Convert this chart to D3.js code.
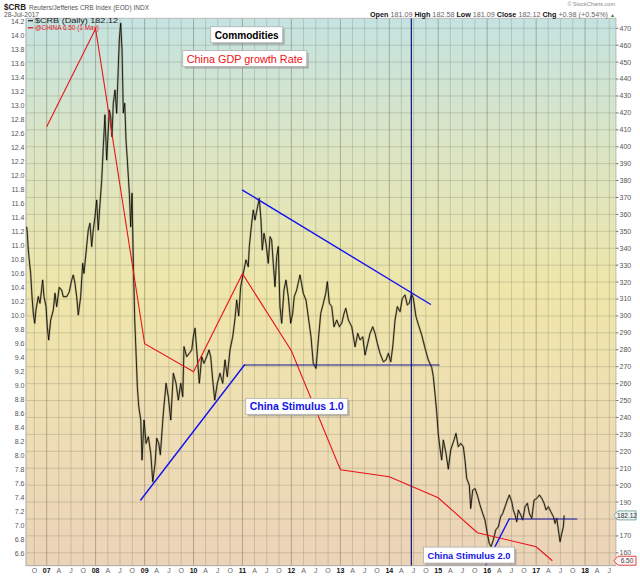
<!DOCTYPE html>
<html lang="en">
<head>
  <meta charset="UTF-8">
  <title>$CRB vs China GDP growth</title>
  <script src="https://d3js.org/d3.v7.min.js"></script>
  <style>
    body { margin: 0; background: #fff; }
    svg text { font-family: Arial, "Liberation Sans", sans-serif; }
  </style>
</head>
<body>
  <svg id="chart" width="640" height="576"></svg>
  <script>
    // $CRB close, time as decimal year
    const crbTime = [
      2006.591, 2006.604, 2006.624, 2006.644, 2006.673, 2006.700, 2006.726, 2006.755, 2006.781, 2006.828,
      2006.863, 2006.918, 2006.945, 2006.986, 2007.012, 2007.041, 2007.082, 2007.135, 2007.170, 2007.204,
      2007.257, 2007.306, 2007.339, 2007.409, 2007.462, 2007.511, 2007.544, 2007.578, 2007.613, 2007.646,
      2007.695, 2007.736, 2007.762, 2007.803, 2007.850, 2007.885, 2007.920, 2007.952, 2007.987, 2008.022,
      2008.054, 2008.089, 2008.124, 2008.157, 2008.191, 2008.226, 2008.259, 2008.279, 2008.308, 2008.334,
      2008.361, 2008.396, 2008.430, 2008.463, 2008.483, 2008.512, 2008.539, 2008.565, 2008.594, 2008.620,
      2008.647, 2008.688, 2008.716, 2008.743, 2008.770, 2008.798, 2008.825, 2008.851, 2008.880, 2008.921,
      2008.947, 2008.988, 2009.029, 2009.076, 2009.125, 2009.166, 2009.213, 2009.248, 2009.288, 2009.321,
      2009.382, 2009.438, 2009.485, 2009.534, 2009.587, 2009.642, 2009.689, 2009.738, 2009.779, 2009.805,
      2009.861, 2009.914, 2009.963, 2009.995, 2010.030, 2010.065, 2010.118, 2010.167, 2010.214, 2010.269,
      2010.316, 2010.351, 2010.392, 2010.433, 2010.486, 2010.541, 2010.596, 2010.643, 2010.690, 2010.745,
      2010.801, 2010.848, 2010.882, 2010.923, 2010.964, 2011.017, 2011.072, 2011.119, 2011.140, 2011.189,
      2011.221, 2011.256, 2011.303, 2011.344, 2011.379, 2011.405, 2011.440, 2011.481, 2011.528, 2011.563,
      2011.597, 2011.630, 2011.665, 2011.700, 2011.732, 2011.767, 2011.802, 2011.849, 2011.890, 2011.937,
      2011.986, 2012.027, 2012.059, 2012.108, 2012.176, 2012.243, 2012.298, 2012.345, 2012.400, 2012.447,
      2012.503, 2012.550, 2012.599, 2012.652, 2012.701, 2012.734, 2012.774, 2012.823, 2012.870, 2012.926,
      2012.979, 2013.028, 2013.075, 2013.110, 2013.163, 2013.232, 2013.300, 2013.355, 2013.402, 2013.457,
      2013.504, 2013.559, 2013.606, 2013.661, 2013.708, 2013.755, 2013.810, 2013.878, 2013.933, 2013.980,
      2014.029, 2014.070, 2014.117, 2014.164, 2014.219, 2014.266, 2014.321, 2014.368, 2014.409, 2014.454,
      2014.491, 2014.546, 2014.593, 2014.663, 2014.730, 2014.797, 2014.867, 2014.900, 2014.934, 2014.969,
      2015.002, 2015.036, 2015.071, 2015.104, 2015.159, 2015.206, 2015.255, 2015.323, 2015.363, 2015.410,
      2015.459, 2015.513, 2015.547, 2015.582, 2015.635, 2015.664, 2015.705, 2015.752, 2015.799, 2015.854,
      2015.909, 2015.956, 2016.003, 2016.044, 2016.079, 2016.126, 2016.175, 2016.228, 2016.277, 2016.318,
      2016.365, 2016.412, 2016.453, 2016.502, 2016.534, 2016.569, 2016.604, 2016.636, 2016.685, 2016.726,
      2016.773, 2016.820, 2016.861, 2016.910, 2016.957, 2017.012, 2017.066, 2017.115, 2017.162, 2017.202,
      2017.249, 2017.298, 2017.352, 2017.386, 2017.421, 2017.454, 2017.488, 2017.523, 2017.556, 2017.572
    ];
    const crbClose = [
      352.7, 348.8, 339.0, 333.0, 325.0, 311.4, 301.6, 295.7, 303.5, 311.4,
      307.5, 321.2, 311.4, 305.5, 293.6, 285.8, 297.6, 303.5, 313.4, 305.5,
      316.9, 315.3, 311.4, 311.4, 314.3, 321.2, 324.2, 319.3, 311.4, 300.6,
      311.4, 331.1, 325.2, 337.0, 350.8, 354.8, 341.0, 350.8, 358.6, 368.5,
      350.8, 366.0, 380.0, 400.0, 418.8, 392.2, 409.9, 421.7, 417.8, 405.9,
      425.7, 433.5, 419.8, 447.3, 463.1, 473.0, 457.2, 420.0, 425.7, 404.0,
      392.2, 372.5, 352.7, 372.5, 331.1, 297.6, 277.9, 258.2, 246.4, 238.5,
      214.9, 238.5, 224.7, 228.6, 218.8, 202.0, 212.9, 227.7, 224.7, 218.0,
      242.5, 260.2, 252.0, 238.5, 266.1, 260.2, 250.3, 260.2, 252.3, 281.8,
      275.9, 277.9, 279.9, 287.7, 292.7, 279.9, 260.2, 275.9, 272.0, 276.0,
      279.9, 275.9, 262.1, 250.3, 260.2, 266.1, 260.2, 274.0, 264.1, 279.9,
      287.7, 298.5, 309.4, 300.0, 317.3, 325.2, 333.1, 329.1, 341.0, 354.8,
      362.6, 356.7, 363.6, 369.5, 356.7, 339.0, 348.8, 342.9, 331.1, 346.8,
      344.9, 331.1, 317.3, 335.0, 341.0, 305.5, 295.7, 315.3, 321.2, 311.4,
      295.7, 301.6, 311.4, 315.3, 324.2, 313.4, 309.4, 299.5, 287.7, 272.0,
      269.0, 285.8, 301.6, 307.5, 313.4, 320.2, 307.5, 305.5, 293.6, 297.6,
      293.6, 295.7, 301.6, 304.5, 297.6, 293.6, 281.8, 289.7, 285.8, 287.7,
      276.9, 283.8, 289.7, 293.6, 289.7, 283.8, 277.9, 272.9, 274.0, 277.9,
      272.9, 281.8, 297.6, 305.5, 302.5, 310.4, 312.4, 306.5, 307.5, 313.0,
      310.4, 299.5, 295.0, 288.7, 281.0, 274.0, 269.5, 264.1, 254.0, 243.0,
      230.0, 221.8, 214.9, 226.7, 218.8, 209.5, 220.8, 226.7, 230.6, 222.7,
      224.7, 222.7, 214.9, 204.0, 200.0, 186.3, 197.1, 198.0, 194.2, 188.3,
      183.3, 179.4, 171.5, 165.6, 163.6, 167.6, 173.5, 175.4, 181.4, 183.3,
      187.3, 191.2, 194.2, 190.2, 185.3, 182.4, 178.4, 185.3, 182.4, 179.4,
      187.3, 189.3, 183.3, 180.4, 191.2, 192.2, 194.2, 192.2, 189.3, 185.3,
      187.3, 184.4, 181.4, 177.4, 180.4, 173.5, 166.6, 171.5, 175.4, 182.12
    ];

    // @CHINA GDP growth rate (left scale)
    const chinaTime = [2007.0, 2008.0, 2009.0, 2010.0, 2011.0, 2012.0, 2013.0, 2014.0, 2015.0, 2015.8, 2017.0, 2017.33];
    const chinaGdp  = [12.7, 14.1, 9.6, 9.2, 10.6, 9.5, 7.8, 7.7, 7.4, 6.9, 6.7, 6.5];

    // axis ticks
    const gdpTicks = [6.6, 6.8, 7.0, 7.2, 7.4, 7.6, 7.8, 8.0, 8.2, 8.4, 8.6, 8.8, 9.0, 9.2, 9.4, 9.6, 9.8, 10.0,
      10.2, 10.4, 10.6, 10.8, 11.0, 11.2, 11.4, 11.6, 11.8, 12.0, 12.2, 12.4, 12.6, 12.8, 13.0, 13.2, 13.4,
      13.6, 13.8, 14.0, 14.2];
    const crbTicks = [160, 170, 180, 190, 200, 210, 220, 230, 240, 250, 260, 270, 280, 290, 300, 310, 320,
      330, 340, 350, 360, 370, 380, 390, 400, 410, 420, 430, 440, 450, 460, 470];
    const monthLetters = ["", "", "", "A", "", "", "J", "", "", "O", "", ""];

    // hand drawn trend lines [time, $CRB level]
    const stimulus1Line = [[2008.92, 191.2], [2011.04, 271], [2015.02, 271]];
    const resistanceLine = [[2011.0, 374.4], [2014.84, 306.9]];
    const stimulus2Line = [[2015.97, 152.9], [2016.45, 180], [2017.83, 180]];
    const markerTime = 2014.45;

    // text notes, anchored at top-left [time, $CRB level]
    const noteText  = ["Commodities", "China GDP growth Rate", "China Stimulus 1.0", "China Stimulus 2.0"];
    const noteTime  = [2010.351, 2009.779, 2011.066, 2014.699];
    const noteLevel = [470.9, 456.8, 251.3, 163.4];

    // decimal year -> Date
    function fromYear(y) {
      const yr = Math.floor(y);
      const start = new Date(yr, 0, 1), end = new Date(yr + 1, 0, 1);
      return new Date(+start + (y - yr) * (end - start));
    }

    const svg = d3.select("#chart");
    const margin = {top: 18.3, right: 24, bottom: 10.3, left: 26};
    const W = 640, H = 576;
    const x0 = margin.left, x1 = W - margin.right, y0 = margin.top, y1 = H - margin.bottom;

    const x = d3.scaleTime()
                .domain([fromYear(2006.577), fromYear(2018.632)])
                .range([x0, x1]);
    const yR = d3.scaleLinear().domain([152.4, 475.9]).range([y1, y0]);
    const yL = d3.scaleLinear().domain([6.429, 14.249]).range([y1, y0]);

    // background gradient
    const defs = svg.append("defs");
    const grad = defs.append("linearGradient")
                     .attr("id", "bg").attr("x1", 0).attr("y1", 0).attr("x2", 0).attr("y2", 1);
    [[0, "#c4e3e1"], [0.22, "#d9e5c6"], [0.5, "#efe6a9"], [0.72, "#eedfb3"], [1, "#ebd3b8"]]
      .forEach(s => grad.append("stop").attr("offset", s[0]).attr("stop-color", s[1]));
    defs.append("clipPath").attr("id", "plotClip")
        .append("rect").attr("x", x0).attr("y", y0).attr("width", x1 - x0).attr("height", y1 - y0);

    svg.append("rect")
       .attr("x", x0).attr("y", y0).attr("width", x1 - x0).attr("height", y1 - y0)
       .attr("fill", "url(#bg)");

    // grid
    const quarters = d3.timeMonth.every(3).range(x.domain()[0], x.domain()[1]);
    svg.append("g").selectAll("line")
       .data(quarters).enter().append("line")
       .attr("x1", d => x(d)).attr("x2", d => x(d))
       .attr("y1", y0).attr("y2", y1)
       .attr("stroke", d => d.getMonth() === 0 ? "rgba(110,100,70,0.45)" : "rgba(110,110,90,0.25)")
       .attr("stroke-width", 1);
    svg.append("g").selectAll("line")
       .data(crbTicks).enter().append("line")
       .attr("x1", x0).attr("x2", x1)
       .attr("y1", d => yR(d)).attr("y2", d => yR(d))
       .attr("stroke", "rgba(110,110,90,0.25)")
       .attr("stroke-width", 1);

    // frame
    svg.append("line").attr("x1", x0).attr("x2", x0).attr("y1", y0).attr("y2", y1).attr("stroke", "#aaa");
    svg.append("line").attr("x1", x0).attr("x2", x1).attr("y1", y1).attr("y2", y1).attr("stroke", "#aaa");
    svg.append("line").attr("x1", x0).attr("x2", x1).attr("y1", y0).attr("y2", y0).attr("stroke", "#bbb");
    svg.append("line").attr("x1", x1).attr("x2", x1).attr("y1", y0).attr("y2", y1)
       .attr("stroke", "#888").attr("stroke-dasharray", "1,1");

    const plot = svg.append("g").attr("clip-path", "url(#plotClip)");

    // $CRB line: soft halo plus dark core
    const crbLine = d3.line()
                      .x((d, i) => x(fromYear(crbTime[i])))
                      .y(d => yR(d));
    plot.append("path").datum(crbClose)
        .attr("fill", "none").attr("stroke", "rgba(120,112,80,0.45)")
        .attr("stroke-width", 2.1).attr("stroke-linejoin", "round")
        .attr("d", crbLine);
    plot.append("path").datum(crbClose)
        .attr("fill", "none").attr("stroke", "#000")
        .attr("stroke-width", 0.8).attr("stroke-linejoin", "round")
        .attr("d", crbLine);

    // China GDP growth line
    const gdpLine = d3.line()
                      .x((d, i) => x(fromYear(chinaTime[i])))
                      .y(d => yL(d));
    plot.append("path").datum(chinaGdp)
        .attr("fill", "none").attr("stroke", "#e8141a").attr("stroke-width", 1.1)
        .attr("d", gdpLine);

    // trend lines, drawn segment by segment: flat pieces come out darker
    [stimulus1Line, resistanceLine, stimulus2Line].forEach(pts => {
      d3.pairs(pts).forEach(([a, b]) => {
        const flat = a[1] === b[1];
        plot.append("line")
            .attr("x1", x(fromYear(a[0]))).attr("y1", yR(a[1]))
            .attr("x2", x(fromYear(b[0]))).attr("y2", yR(b[1]))
            .attr("stroke", flat ? "#12129c" : "#1414f0")
            .attr("stroke-width", flat ? 1.2 : 1.4)
            .attr("stroke-linecap", "round");
      });
    });
    plot.append("line")
        .attr("x1", x(fromYear(markerTime))).attr("x2", x(fromYear(markerTime)))
        .attr("y1", y0).attr("y2", y1)
        .attr("stroke", "#10108c").attr("stroke-width", 1.2);

    // notes
    const noteStyle = [
      {color: "#000", weight: "bold", size: 10.5, len: 64},
      {color: "#ee1111", weight: "normal", size: 11, len: 116},
      {color: "#1414e6", weight: "bold", size: 10.5, len: 94},
      {color: "#1414e6", weight: "bold", size: 9.5, len: 83}
    ];
    noteText.forEach((t, i) => {
      const s = noteStyle[i];
      const g = svg.append("g")
                   .attr("transform", `translate(${x(fromYear(noteTime[i]))},${yR(noteLevel[i])})`);
      const w = s.len + 8, h = 16;
      g.append("rect").attr("x", 2).attr("y", 2).attr("width", w).attr("height", h)
       .attr("fill", "#8c8c8c").attr("opacity", 0.55);
      g.append("rect").attr("width", w).attr("height", h)
       .attr("fill", "#fff").attr("stroke", "#b0b0b0").attr("stroke-width", 0.8);
      g.append("text").attr("x", 4).attr("y", 12)
       .attr("font-size", s.size).attr("font-weight", s.weight).attr("fill", s.color)
       .attr("textLength", s.len).attr("lengthAdjust", "spacingAndGlyphs")
       .text(t);
    });

    // legend inside plot
    const legend = [
      {text: "$CRB (Daily) 182.12", color: "#222", y: 23, len: 83},
      {text: "@CHINA 6.50 (1 May)", color: "#e8141a", y: 30, len: 64}
    ];
    legend.forEach(l => {
      svg.append("line").attr("x1", 28).attr("x2", 33).attr("y1", l.y - 2.3).attr("y2", l.y - 2.3)
         .attr("stroke", l.color).attr("stroke-width", 1.2);
      svg.append("text").attr("x", 35).attr("y", l.y)
         .attr("font-size", 7).attr("fill", l.color)
         .attr("textLength", l.len).attr("lengthAdjust", "spacingAndGlyphs")
         .text(l.text);
    });

    // left axis (China GDP)
    svg.append("g").selectAll("text")
       .data(gdpTicks).enter().append("text")
       .attr("x", 24.5).attr("y", d => yL(d)).attr("dy", "0.35em")
       .attr("text-anchor", "end").attr("font-size", 7).attr("fill", "#555")
       .text(d => d.toFixed(1));

    // right axis ($CRB); the label under the last-value tag is left out
    const lastCrb = crbClose[crbClose.length - 1];
    const lastGdp = chinaGdp[chinaGdp.length - 1];
    const rTicks = crbTicks.filter(d => Math.abs(yR(d) - yR(lastCrb)) > 6 && Math.abs(yR(d) - yL(lastGdp)) > 6);
    const rAxis = svg.append("g");
    rAxis.selectAll("line").data(crbTicks).enter().append("line")
         .attr("x1", x1).attr("x2", x1 + 2.5).attr("y1", d => yR(d)).attr("y2", d => yR(d))
         .attr("stroke", "#777");
    rAxis.selectAll("text").data(rTicks).enter().append("text")
         .attr("x", x1 + 3.5).attr("y", d => yR(d)).attr("dy", "0.35em")
         .attr("font-size", 7).attr("fill", "#555")
         .text(d => d);

    // last value tags
    function tag(yPos, label, stroke, fill, color) {
      const g = svg.append("g").attr("transform", `translate(${x1 - 2},${yPos})`);
      g.append("path").attr("d", "M0,0 L4,-4.5 H22 V4.5 H4 Z")
       .attr("fill", fill).attr("stroke", stroke).attr("stroke-width", 0.9);
      g.append("text").attr("x", 13).attr("y", 0).attr("dy", "0.35em")
       .attr("text-anchor", "middle").attr("font-size", 6.5).attr("fill", color)
       .text(label);
    }
    tag(yR(lastCrb), lastCrb.toFixed(2), "#6f9f9b", "#eaf4f2", "#333");
    tag(yL(lastGdp), lastGdp.toFixed(2), "#e03030", "#fff4f4", "#444");

    // x axis labels
    svg.append("g").selectAll("text")
       .data(quarters).enter().append("text")
       .attr("x", d => x(d)).attr("y", 573)
       .attr("text-anchor", "middle").attr("font-size", 7)
       .attr("font-weight", d => d.getMonth() === 0 ? "bold" : "normal")
       .attr("fill", d => d.getMonth() === 0 ? "#111" : "#666")
       .text(d => d.getMonth() === 0 ? d3.timeFormat("%y")(d) : monthLetters[d.getMonth()]);

    // header
    svg.append("text").attr("x", 4).attr("y", 10)
       .attr("font-size", 8.5).attr("font-weight", "bold").attr("fill", "#222")
       .attr("textLength", 22).attr("lengthAdjust", "spacingAndGlyphs").text("$CRB");
    svg.append("text").attr("x", 29).attr("y", 9.5)
       .attr("font-size", 7).attr("fill", "#555")
       .attr("textLength", 120).attr("lengthAdjust", "spacingAndGlyphs")
       .text("Reuters/Jefferies CRB Index (EOD) INDX");
    svg.append("text").attr("x", 4).attr("y", 16.5)
       .attr("font-size", 7).attr("fill", "#555")
       .attr("textLength", 35).attr("lengthAdjust", "spacingAndGlyphs")
       .text("28-Jul-2017");
    svg.append("text").attr("x", 615).attr("y", 5.5)
       .attr("text-anchor", "end").attr("font-size", 5.5).attr("fill", "#888")
       .text("\u00a9 StockCharts.com");

    const quote = [
      ["Open", true], [" 181.09 ", false], ["High", true], [" 182.58 ", false],
      ["Low", true], [" 181.09 ", false], ["Close", true], [" 182.12 ", false],
      ["Chg", true], [" +0.98 (+0.54%)", false]
    ];
    const q = svg.append("text").attr("x", 370).attr("y", 17)
                 .attr("font-size", 7.5)
                 .attr("textLength", 238).attr("lengthAdjust", "spacingAndGlyphs");
    quote.forEach(p => {
      q.append("tspan")
       .attr("font-weight", p[1] ? "bold" : "normal")
       .attr("fill", p[1] ? "#111" : "#666")
       .text(p[0]);
    });
    svg.append("text").attr("x", 615).attr("y", 16.5)
       .attr("text-anchor", "end").attr("font-size", 5).attr("fill", "#3a7a3a")
       .text("\u25b2");
  </script>
</body>
</html>
